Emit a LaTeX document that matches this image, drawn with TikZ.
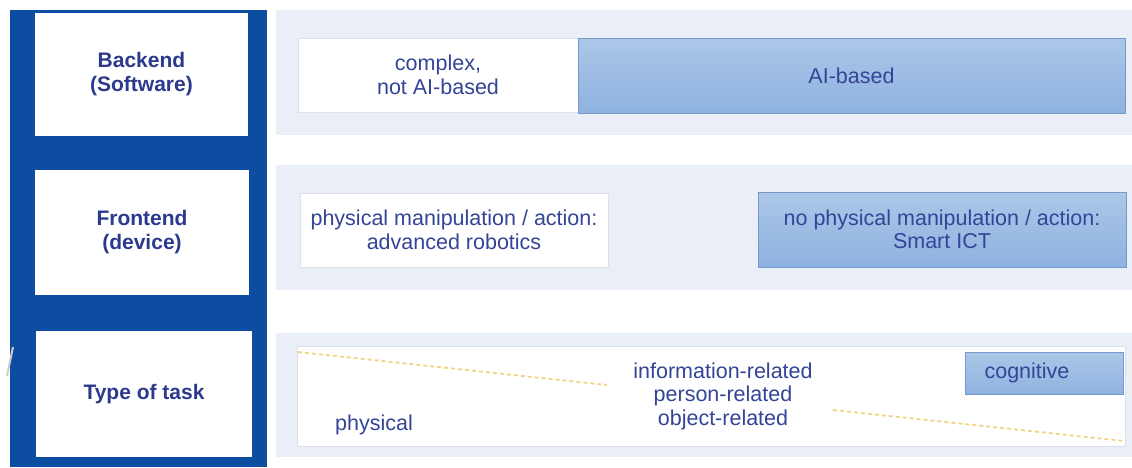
\documentclass[tikz,border=0pt]{standalone}
\usepackage{fontspec}
\setmainfont{Liberation Sans}
\definecolor{barblue}{RGB}{12,77,162}
\definecolor{bandgrey}{RGB}{234,238,246}
\definecolor{labelblue}{RGB}{44,58,142}
\definecolor{textblue}{RGB}{52,68,150}
\definecolor{aitop}{RGB}{172,199,232}
\definecolor{aibottom}{RGB}{142,178,224}
\definecolor{aiedge}{RGB}{118,152,202}
\definecolor{paleedge}{RGB}{220,224,233}
\definecolor{dashyellow}{RGB}{243,212,135}
\begin{document}
\begin{tikzpicture}[x=1pt,y=-1pt,
  area/.style={rectangle, inner sep=0pt, outer sep=0pt, anchor=north west, align=center},
  bar/.style={area, fill=barblue},
  labelbox/.style={area, fill=white, text=labelblue,
    font=\bfseries\fontsize{21}{24}\selectfont},
  band/.style={area, fill=bandgrey},
  whitebox/.style={area, fill=white, draw=paleedge, line width=1pt, text=textblue,
    font=\fontsize{21.5}{23.5}\selectfont},
  bluebox/.style={area, top color=aitop, bottom color=aibottom, draw=aiedge,
    line width=1pt, text=textblue, font=\fontsize{21.5}{23}\selectfont},
  plaintext/.style={inner sep=0pt, align=center, text=textblue,
    font=\fontsize{21.5}{23.5}\selectfont},
  taskline/.style={dashyellow, line width=1.8pt, dash pattern=on 4pt off 3pt}
]
\useasboundingbox (0,0) rectangle (1132,467);
\fill[white] (0,0) rectangle (1132,467);

% left column with the three row headings
\node[bar, minimum width=257pt, minimum height=457pt] (col) at (10,10) {};
\node[labelbox, minimum width=213pt, minimum height=123pt] (backend) at (35,13) {Backend\\(Software)};
\node[labelbox, minimum width=214pt, minimum height=125pt] (frontend) at (35,170) {Frontend\\(device)};
\node[labelbox, minimum width=216pt, minimum height=126pt] (task) at (36,331) {Type of task};
\draw[gray!40, line width=2pt] (7,376) -- (13,347);

% row backgrounds
\node[band, minimum width=856pt, minimum height=125pt] (band1) at (276,10) {};
\node[band, minimum width=856pt, minimum height=125pt] (band2) at (276,165) {};
\node[band, minimum width=856pt, minimum height=124pt] (band3) at (276,333) {};

% backend row
\node[whitebox, minimum width=280pt, minimum height=74pt] (notai) at (298,38) {complex,\\not AI-based};
\node[bluebox, minimum width=547pt, minimum height=75pt] (ai) at (578,38) {AI-based};

% frontend row
\node[whitebox, minimum width=308pt, minimum height=74pt] (robotics) at (300,193) {physical manipulation / action:\\advanced robotics};
\node[bluebox, minimum width=368pt, minimum height=75pt] (ict) at (758,192) {no physical manipulation / action:\\Smart ICT};

% type of task row
\node[whitebox, minimum width=828pt, minimum height=100pt] (tasks) at (297,346) {};
\node[bluebox, minimum width=158pt, minimum height=42pt] (cognitive) at (965,352) {cognitive\hspace*{34pt}};
\node[plaintext] (related) at (723,396) {information-related\\person-related\\object-related};
\node[plaintext] (physical) at (374,425) {physical};

\coordinate (d1) at (298,352);
\coordinate (d2) at (607,385);
\coordinate (d3) at (833,410);
\coordinate (d4) at (1124,441);
\draw[taskline] (d1) -- (d2);
\draw[taskline] (d3) -- (d4);
\end{tikzpicture}
\end{document}
